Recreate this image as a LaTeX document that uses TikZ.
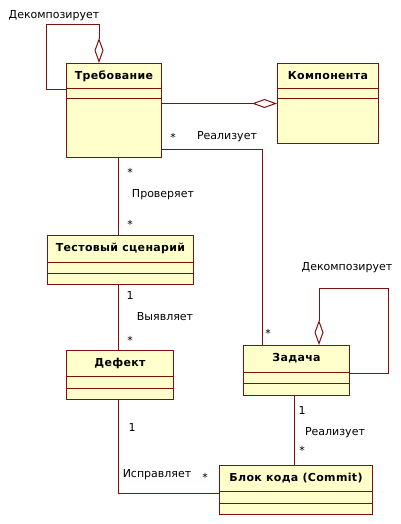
\documentclass[tikz,border=0pt]{standalone}
\usepackage{fontspec}
\setmainfont{DejaVu Sans}
\newfontfamily\titlefont[LetterSpace=3]{DejaVu Sans Bold}
\usetikzlibrary{arrows.meta}
\definecolor{clsfill}{RGB}{255,255,204}
\definecolor{clsdraw}{RGB}{128,16,16}
\tikzset{
  clsbox/.style={draw=clsdraw, fill=clsfill, line width=1pt, inner sep=0pt},
  clsline/.style={draw=clsdraw, line width=1pt},
  clstitle/.style={font=\fontsize{11}{13}\titlefont, inner sep=0pt},
  assoc/.style={draw=clsdraw, line width=1pt},
  agg/.style={assoc, -{Diamond[open, length=25pt, width=9pt, line width=1pt]}},
  lbl/.style={font=\fontsize{11}{13}\selectfont, inner sep=0pt},
}
\newcommand\umlcls[8]{%
  \node[clsbox, minimum width=#4pt, minimum height=#5pt, anchor=north west] (#1) at (#2,#3) {};
  \draw[clsline] ([yshift=-#6pt]#1.north west) -- ([yshift=-#6pt]#1.north east);
  \draw[clsline] ([yshift=-#7pt]#1.north west) -- ([yshift=-#7pt]#1.north east);
  \node[clstitle] at ([yshift=-#6pt/2]#1.north) {#8};
}
\begin{document}
\begin{tikzpicture}[x=1pt, y=-1pt]
\useasboundingbox (0,0) rectangle (401,524);
\fill[white] (0,0) rectangle (401,524);
% classes
\umlcls{treb}{66}{63}{95}{94}{26}{36}{Требование}
\umlcls{komp}{277}{63}{101}{80}{26}{36}{Компонента}
\umlcls{tc}{47}{235}{146}{49}{27}{38}{Тестовый сценарий}
\umlcls{def}{66}{350}{107}{49}{26}{38}{Дефект}
\umlcls{zad}{243}{345}{106}{50}{27}{38}{Задача}
\umlcls{blok}{219}{465}{153}{49}{26}{38}{Блок кода (Commit)}
% coordinates on nodes
\coordinate (p1) at ([xshift=71pt]tc.north west);
\coordinate (p2) at ([xshift=52pt]def.north west);
\coordinate (p3) at ([xshift=52pt]def.south west);
\coordinate (p4) at ([xshift=51pt]zad.south west);
\coordinate (p5) at ([xshift=19pt]zad.north west);
% Требование self aggregation
\draw[agg] ([yshift=-27pt]treb.north west) -- ++(-20,0) |- ([xshift=33pt,yshift=38pt]treb.north west) -- ([xshift=33pt]treb.north west);
\node[lbl] (l1) at (54,16) {Декомпозирует};
% Требование - Компонента
\draw[agg] (treb.east |- komp.west) -- (komp.west);
% Требование - Задача
\draw[assoc] ([yshift=9pt]treb.south east) -| (p5);
\node[lbl] (l2) at (173,137) {*};
\node[lbl] (l3) at (227,137) {Реализует};
\node[lbl] (l4) at (268,333) {*};
% Требование - Тестовый сценарий
\draw[assoc] (p1) -- (p1 |- treb.south);
\node[lbl] (l5) at (130,172) {*};
\node[lbl] (l6) at (163,195) {Проверяет};
\node[lbl] (l7) at (130,224) {*};
% Тестовый сценарий - Дефект
\draw[assoc] (p2) -- (p2 |- tc.south);
\node[lbl] (l8) at (130,295) {1};
\node[lbl] (l9) at (165,317) {Выявляет};
\node[lbl] (l10) at (130,340) {*};
% Дефект - Блок кода
\draw[assoc] (p3) |- ([yshift=-28pt]blok.north west);
\node[lbl] (l11) at (132,427) {1};
\node[lbl] (l12) at (157,475) {Исправляет};
\node[lbl] (l13) at (205,477) {*};
% Задача - Блок кода
\draw[assoc] (p4) -- (p4 |- blok.north);
\node[lbl] (l14) at (302,410) {1};
\node[lbl] (l15) at (335,433) {Реализует};
\node[lbl] (l16) at (302,450) {*};
% Задача self aggregation
\draw[agg] ([yshift=-28pt]zad.north east) -- ++(38,0) |- ([xshift=76pt,yshift=57pt]zad.north west) -- ([xshift=76pt]zad.north west);
\node[lbl] (l17) at (347,268) {Декомпозирует};
\end{tikzpicture}
\end{document}
